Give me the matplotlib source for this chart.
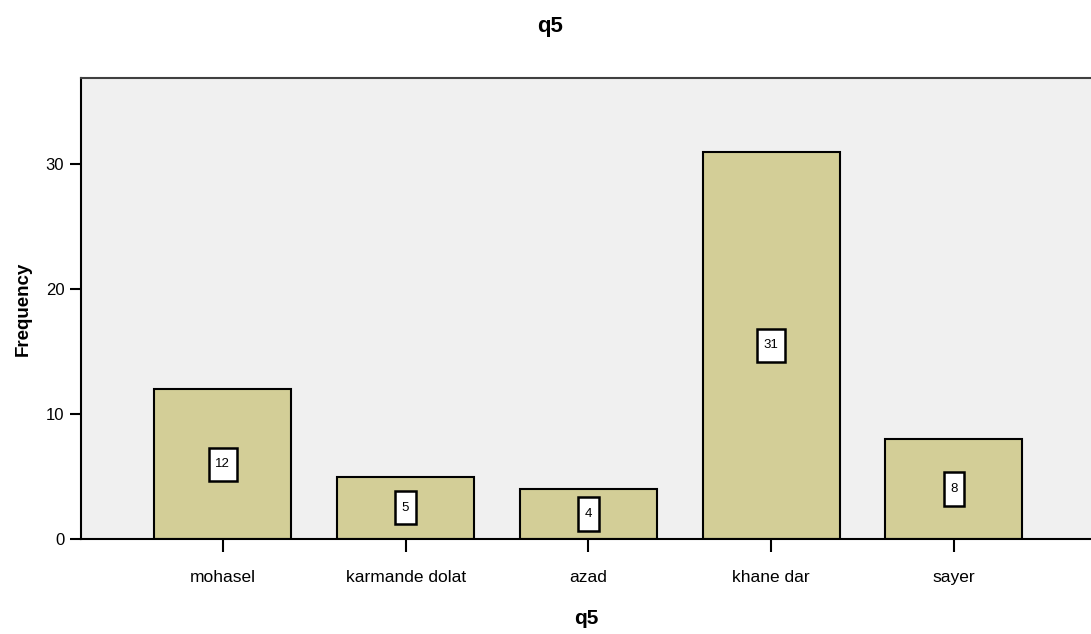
import matplotlib
matplotlib.use("Agg")
import matplotlib.pyplot as plt
from matplotlib.path import Path

plt.rcParams['font.family'] = ['Liberation Sans', 'DejaVu Sans']

categories = ['mohasel', 'karmande dolat', 'azad', 'khane dar', 'sayer']
counts = [12, 5, 4, 31, 8]
yticks = [0, 10, 20, 30]


# label box that is taller than wide, like the SPSS value labels
def tall_box(x0, y0, width, height, mutation_size):
    px = 0.5 * mutation_size
    py = 0.8 * mutation_size
    x0, y0 = x0 - px, y0 - py
    x1, y1 = x0 + width + 2 * px, y0 + height + 2 * py
    return Path([(x0, y0), (x1, y0), (x1, y1), (x0, y1), (x0, y0)], closed=True)


fig = plt.figure(figsize=(10.91, 6.34), dpi=100)
ax = fig.add_axes([0.0742, 0.1498, 0.9258, 0.7272])
ax.set_facecolor('#F0F0F0')

x = range(len(categories))
ax.bar(x, counts, width=0.75, color='#D3CE97', edgecolor='black', linewidth=1.5, zorder=2)

for i, v in zip(x, counts):
    ax.text(i, v / 2, str(v), ha='center', va='center', fontsize=9.5, zorder=3,
            bbox=dict(boxstyle=tall_box, facecolor='white', edgecolor='black', linewidth=1.8))

ax.set_xlim(-0.776, 4.75)
ax.set_ylim(0, 36.9)
ax.set_xticks(list(x))
ax.set_xticklabels(categories, fontsize=12.5)
ax.set_yticks(yticks)
ax.tick_params(axis='y', labelsize=12, length=8, width=1.5, direction='out', pad=4)
ax.tick_params(axis='x', length=9.5, width=1.5, direction='out', pad=13)

ax.spines['right'].set_visible(False)
ax.spines['top'].set_color('#404040')
ax.spines['top'].set_linewidth(1.5)
ax.spines['left'].set_linewidth(1.5)
ax.spines['bottom'].set_linewidth(1.5)

ax.set_ylabel('Frequency', fontsize=13.5, fontweight='bold', labelpad=10)
ax.set_xlabel('q5', fontsize=15, fontweight='bold', labelpad=17)
fig.text(0.504, 0.958, 'q5', ha='center', va='center', fontsize=16, fontweight='bold')

fig.savefig('out.png', dpi=100)
